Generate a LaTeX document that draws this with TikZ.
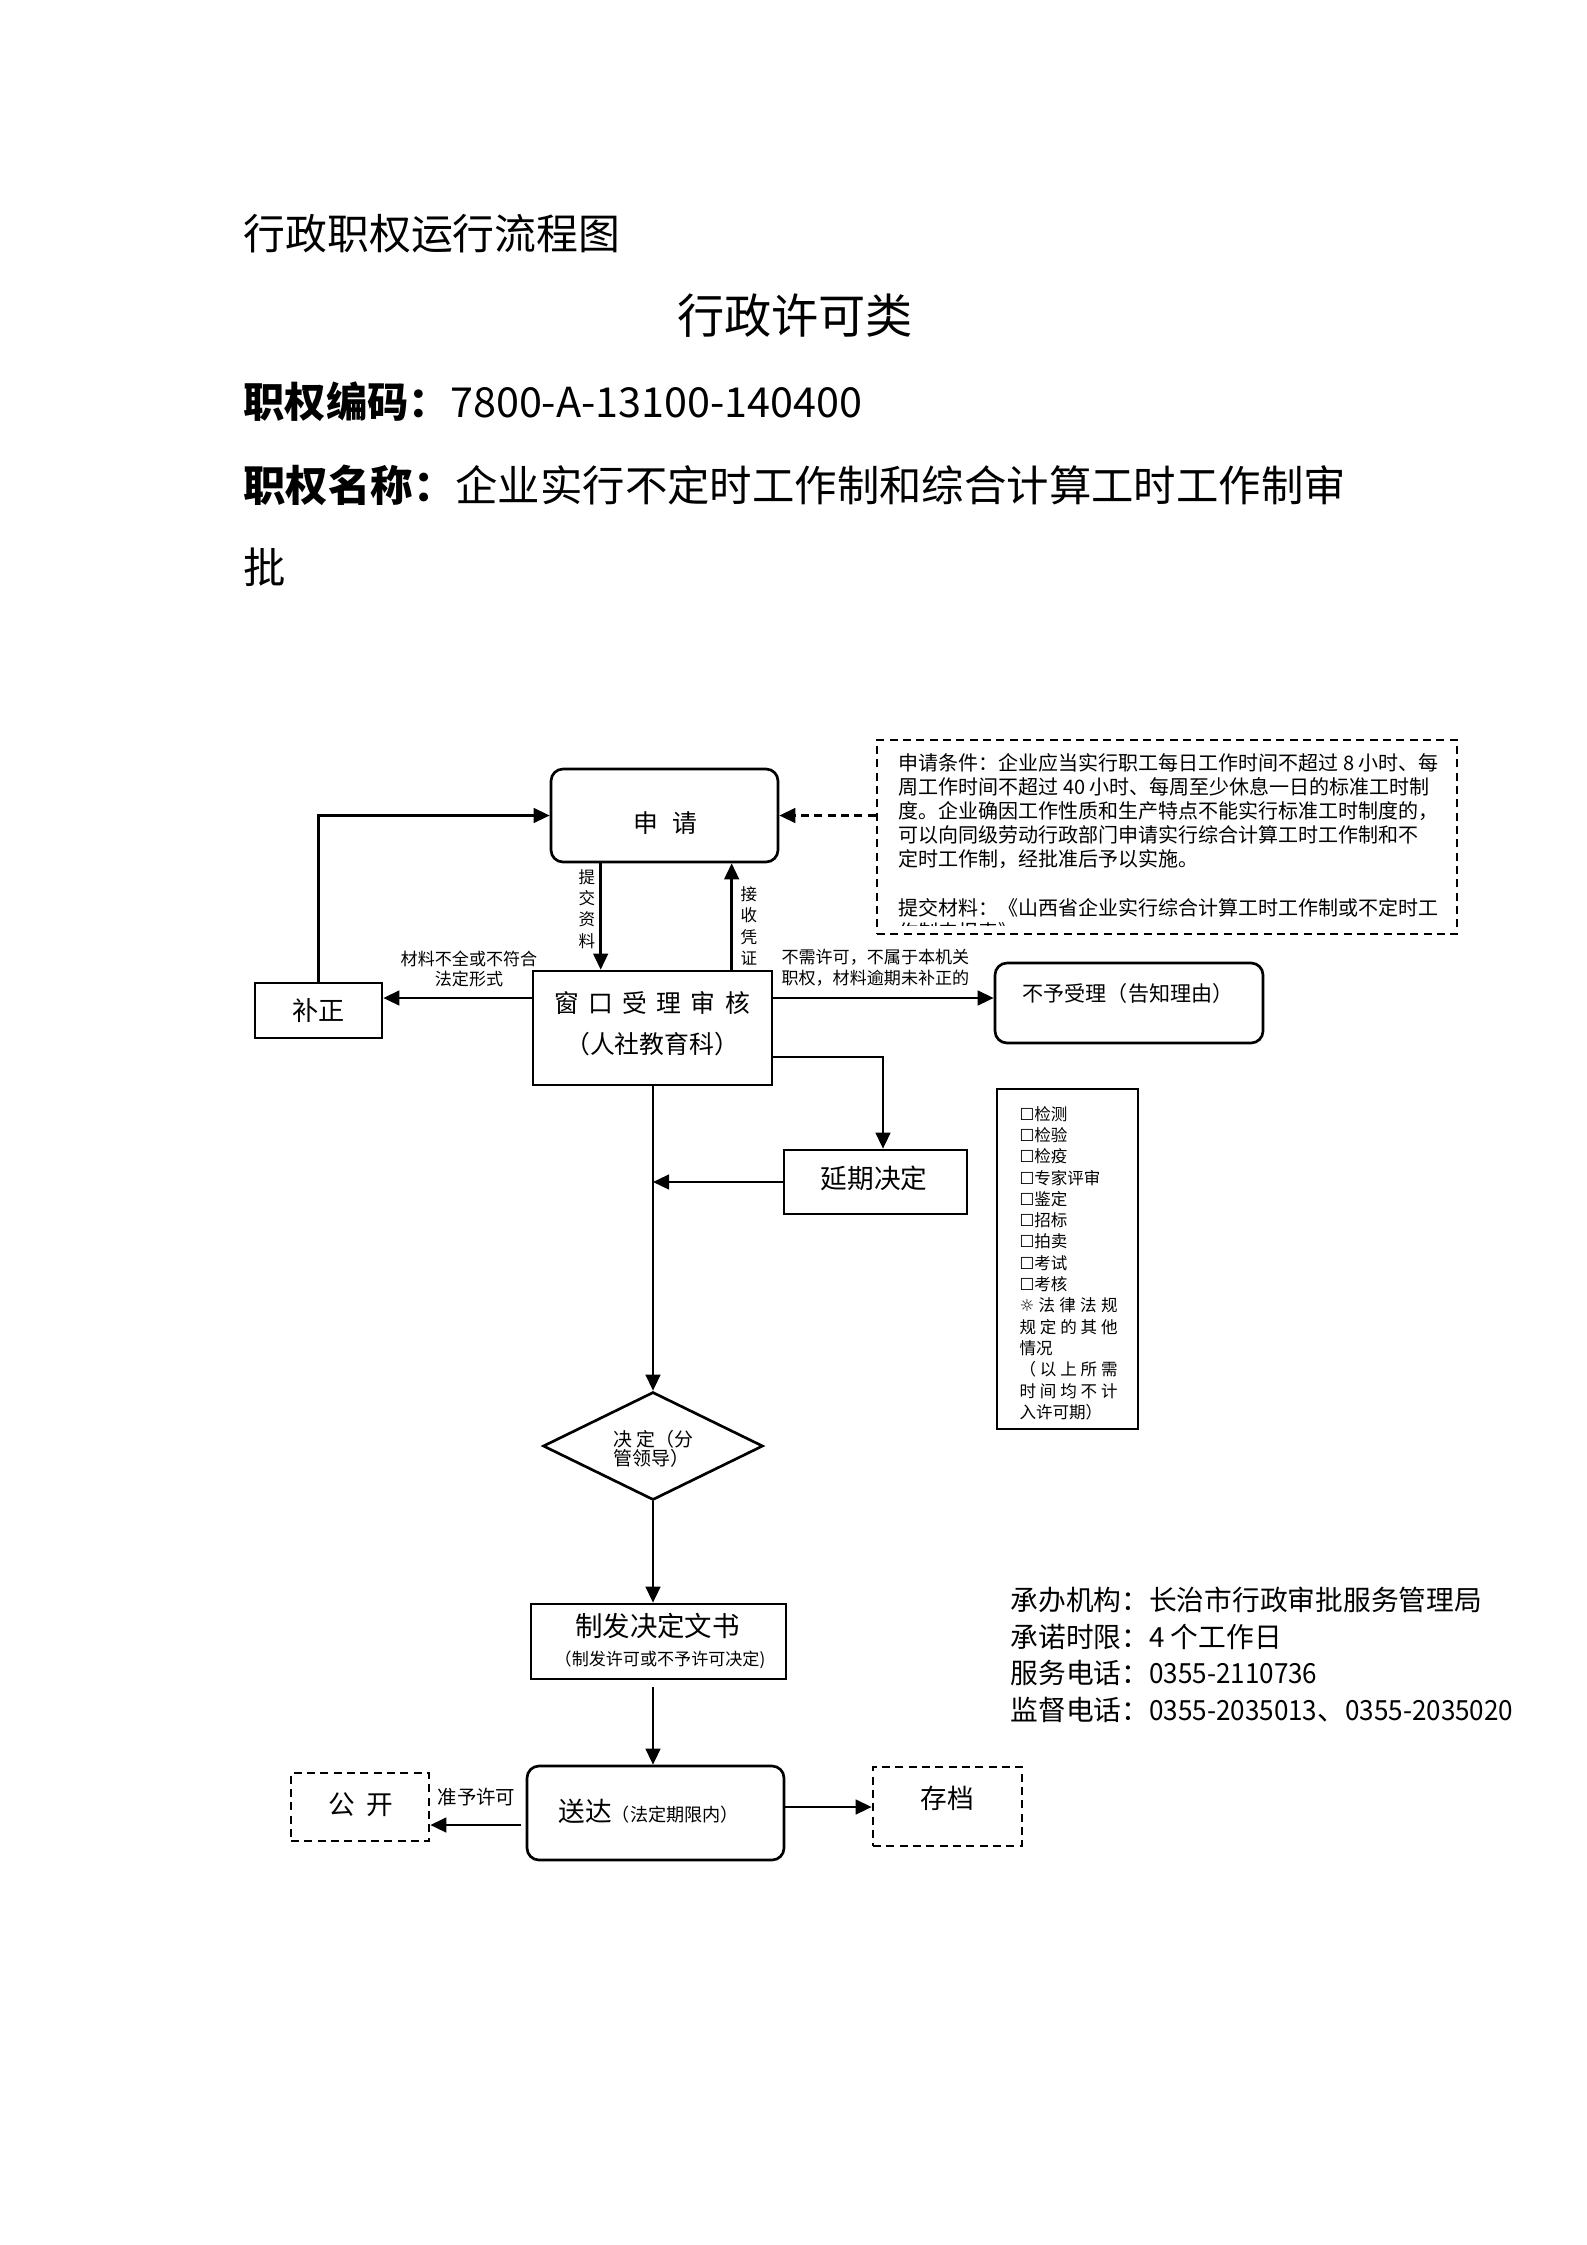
\documentclass[tikz,border=0pt]{standalone}
\usepackage{graphicx}
\usepackage{fontspec}
\setmainfont{Noto Sans CJK SC}
\newfontfamily\djv{DejaVu Sans}
\usetikzlibrary{shapes.geometric,arrows.meta,calc}
\newlength\pu \setlength\pu{0.375pt}
\newcommand\fs[1]{\fontsize{#1}{#1}\selectfont}
\newcommand\nar[1]{\scalebox{0.94}[1]{#1}}
\begin{document}
\begin{tikzpicture}[x=1\pu,y=-1\pu,
  box/.style={draw, line width=1pt, inner sep=0pt},
  rbox/.style={box, rounded corners=4.5pt},
  dbox/.style={box, dash pattern=on 3pt off 2pt},
  txt/.style={inner sep=0pt, text height=0.88em, text depth=0.12em},
  arr/.style={line width=0.9pt, -{Triangle[length=6pt,width=5.5pt]}},
]
\useasboundingbox[fill=white] (0,0) rectangle (1587,2245);

% ---------- header ----------
\node[txt, anchor=west, font=\fs{15.7pt}] (h1) at (243,239) {行政职权运行流程图};
\node[txt, font=\fs{17.7pt}] (h2) at (795,323) {行政许可类};
\node[txt, anchor=west, font=\fs{15.5pt}] (h3) at (243,407) {\textbf{职权编码：}7800-A-13100-140400};
\node[txt, anchor=west, font=\fs{15.9pt}] (h4) at (243,491) {\textbf{职权名称：}企业实行不定时工作制和综合计算工时工作制审};
\node[txt, anchor=west, font=\fs{15.9pt}] (h5) at (243,573) {批};

% ---------- boxes ----------
\node[rbox, minimum width=227\pu, minimum height=93\pu] (sq) at (664.5,815.5) {};
\node[txt, font=\fs{9.3pt}] (sqt) at (665,822) {\makebox[64\pu]{申\hfill 请}};

\node[dbox, minimum width=580\pu, minimum height=194\pu] (cond) at (1167,837) {};
\foreach \t/\yy [count=\i] in {
  {申请条件：企业应当实行职工每日工作时间不超过 8 小时、每}/760,
  {周工作时间不超过 40 小时、每周至少休息一日的标准工时制}/784.2,
  {度。企业确因工作性质和生产特点不能实行标准工时制度的，}/808.4,
  {可以向同级劳动行政部门申请实行综合计算工时工作制和不}/832.6,
  {定时工作制，经批准后予以实施。}/856.8,
  {提交材料：《山西省企业实行综合计算工时工作制或不定时工}/905.2}
  \node[txt, anchor=west, font=\fs{7.5pt}] (cl\i) at (898,\yy) {\t};
\begin{scope}
  \clip (880,915) rectangle (1450,925);
  \node[txt, anchor=west, font=\fs{7.5pt}] (cl7) at (898,929.4) {作制申报表》};
\end{scope}

\node[box, minimum width=127\pu, minimum height=55\pu, font=\fs{9.8pt}, text height=.88em, text depth=.12em] (bz) at (318.5,1010.5) {补正};

\node[box, minimum width=239\pu, minimum height=114\pu] (ck) at (652.5,1028) {};
\node[txt, font=\fs{9.3pt}] (ck1) at (652,1002) {\makebox[196\pu]{窗\hfill 口\hfill 受\hfill 理\hfill 审\hfill 核}};
\node[txt, font=\fs{9.3pt}] (ck2) at (652,1043) {（人社教育科）};

\node[rbox, minimum width=268\pu, minimum height=80\pu] (bysl) at (1129,1003) {};
\node[txt, font=\fs{7.9pt}] (byslt) at (1128,991) {不予受理（告知理由）};

\node[box, minimum width=183\pu, minimum height=64\pu] (yq) at (875.5,1182) {};
\node[txt, font=\fs{10pt}] (yqt) at (874,1178) {延期决定};

\node[box, minimum width=141\pu, minimum height=340\pu] (lst) at (1067.5,1259) {};
\foreach \t [count=\i] in {
  {{\djv ☐}检测}, {{\djv ☐}检验}, {{\djv ☐}检疫}, {{\djv ☐}专家评审},
  {{\djv ☐}鉴定}, {{\djv ☐}招标}, {{\djv ☐}拍卖}, {{\djv ☐}考试}, {{\djv ☐}考核},
  {\makebox[98\pu]{{\djv ☼}\hfill 法\hfill 律\hfill 法\hfill 规}},
  {\makebox[98\pu]{规\hfill 定\hfill 的\hfill 其\hfill 他}},
  {情况},
  {\makebox[98\pu]{（\hfill 以\hfill 上\hfill 所\hfill 需}},
  {\makebox[98\pu]{时\hfill 间\hfill 均\hfill 不\hfill 计}},
  {入许可期）}}
  \node[txt, anchor=west, font=\fs{6.2pt}] (li\i) at (1019,{1110+(\i-1)*21.3}) {\t};

\node[draw, line width=1pt, diamond, minimum width=220\pu, minimum height=108\pu, inner sep=0pt] (jd) at (653,1446) {};
\node[txt, anchor=west, font=\fs{7.1pt}] (jd1) at (613,1436) {决 定（分};
\node[txt, anchor=west, font=\fs{7.1pt}] (jd2) at (613,1455) {管领导）};

\node[box, minimum width=255\pu, minimum height=75\pu] (zf) at (658.5,1641.5) {};
\node[txt, font=\fs{10.3pt}] (zf1) at (657.5,1626) {制发决定文书};
\node[txt, font=\fs{6.4pt}] (zf2) at (660,1655) {（制发许可或不予许可决定)};

\node[rbox, minimum width=257\pu, minimum height=94\pu] (sd) at (655.5,1813) {};
\node[txt, anchor=west, font=\fs{10pt}] (sdt) at (558,1811) {送达{\fs{6.8pt}（法定期限内）}};

\node[dbox, minimum width=138\pu, minimum height=68\pu] (gk) at (360,1807) {};
\node[txt, font=\fs{10pt}] (gkt) at (360.5,1804) {\makebox[65\pu]{公\hfill 开}};

\node[dbox, minimum width=149\pu, minimum height=79\pu] (cd) at (947.5,1806.5) {};
\node[txt, font=\fs{10pt}] (cdt) at (947,1798) {存档};

% ---------- labels ----------
\node[inner sep=0pt, align=center, font=\fontsize{6.4pt}{7.5pt}\selectfont] (lb1) at (469,969) {材料不全或不符合\\法定形式};
\node[inner sep=0pt, align=left, anchor=west, font=\fontsize{6.4pt}{7.9pt}\selectfont] (lb2) at (781,967.5) {不需许可，不属于本机关\\职权，材料逾期未补正的};
\node[inner sep=0pt, align=center, font=\fontsize{6.2pt}{8pt}\selectfont] (lb3) at (587,909) {提\\交\\资\\料};
\node[inner sep=0pt, align=center, font=\fontsize{6.2pt}{8pt}\selectfont] (lb4) at (749,926) {接\\收\\凭\\证};
\node[txt, anchor=west, font=\fs{7.3pt}] (lb5) at (437,1794) {准予许可};

% ---------- info ----------
\foreach \t/\yy [count=\i] in {
  {承办机构：长治市行政审批服务管理局}/1600,
  {承诺时限：4 个工作日}/1637,
  {服务电话：\nar{0355-2110736}}/1673,
  {监督电话：\nar{0355-2035013}、\nar{0355-2035020}}/1710}
  \node[txt, anchor=west, font=\fs{10.4pt}] (inf\i) at (1010,\yy) {\t};

% ---------- connectors ----------
\draw[arr] (bz.north) |- (sq.west);
\draw[arr, dash pattern=on 3pt off 2pt] (cond.west |- sq.east) -- (sq.east);
\coordinate (tjA) at ([xshift=51\pu]sq.south west);
\draw[arr] (tjA) -- (tjA |- ck.north);
\coordinate (jsA) at ([xshift=182\pu]sq.south west);
\draw[arr] (jsA |- ck.north) -- (jsA);
\coordinate (ckL) at ([yshift=30\pu]ck.west);
\draw[arr] (ckL) -- (ckL -| bz.east);
\coordinate (ckR) at ([yshift=30\pu]ck.east);
\draw[arr] (ckR) -- (ckR -| bysl.west);
\coordinate (ckR2) at ([yshift=-29\pu]ck.east);
\coordinate (yqT) at ([xshift=7.5\pu]yq.north);
\draw[arr] (ckR2) -| (yqT);
\draw[arr] (yq.west) -- (yq.west -| jd.north);
\draw[arr] (jd.north |- ck.south) -- (jd.north);
\draw[arr] (jd.south) -- (jd.south |- zf.north);
\draw[arr, shorten <=7\pu] (jd.south |- zf.south) -- (jd.south |- sd.north);
\coordinate (sdL) at ([yshift=-12\pu]sd.west);
\draw[arr, shorten <=5\pu] (sdL) -- (sdL -| gk.east);
\coordinate (sdR) at ([yshift=6\pu]sd.east);
\draw[arr] (sdR) -- (sdR -| cd.west);
\end{tikzpicture}
\end{document}
